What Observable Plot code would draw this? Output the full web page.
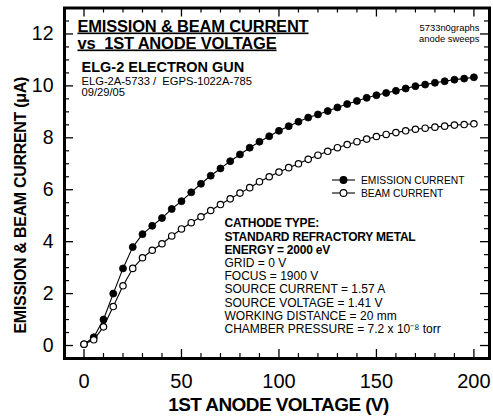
<!DOCTYPE html>
<html>
<head>
<meta charset="utf-8">
<script src="https://cdn.jsdelivr.net/npm/d3@7"></script>
<script src="https://cdn.jsdelivr.net/npm/@observablehq/plot@0.6"></script>
<style>
  body { margin: 0; background: #fff; }
  #chart svg { display: block; }
</style>
</head>
<body>
<div id="chart"></div>
<script>
// ---- data ----
const voltage = [0,5,10,15,20,25,30,35,40,45,50,55,60,65,70,75,80,85,90,95,100,
                 105,110,115,120,125,130,135,140,145,150,155,160,165,170,175,180,185,190,195,200];
const emission = [0.05,0.32,1.0,2.0,2.97,3.79,4.29,4.61,4.91,5.26,5.56,5.9,6.23,6.54,6.82,7.1,7.36,7.62,7.85,8.06,8.27,
                  8.45,8.62,8.78,8.9,9.03,9.17,9.3,9.42,9.54,9.64,9.73,9.81,9.9,9.99,10.05,10.12,10.18,10.24,10.28,10.33];
const beam = [0.05,0.22,0.72,1.5,2.3,2.97,3.38,3.67,3.92,4.22,4.49,4.73,4.96,5.2,5.43,5.65,5.87,6.08,6.31,6.5,6.68,
              6.85,7.0,7.17,7.33,7.48,7.62,7.74,7.85,7.95,8.05,8.13,8.2,8.27,8.33,8.37,8.41,8.45,8.49,8.51,8.54];
const seriesNames = ["EMISSION CURRENT", "BEAM CURRENT"];
const xTickLabels = [0, 50, 100, 150, 200];
const yTickLabels = [0, 2, 4, 6, 8, 10, 12];
const xMinorTicks = [10,20,30,40,60,70,80,90,110,120,130,140,160,170,180,190];
const yMinorTicks = [0.5,1,1.5,2.5,3,3.5,4.5,5,5.5,6.5,7,7.5,8.5,9,9.5,10.5,11,11.5,12.5];

const titleLines = ["EMISSION & BEAM CURRENT", "vs\u00a0\u00a01ST ANODE VOLTAGE"];
const subTitle = "ELG-2 ELECTRON GUN";
const subLines = ["ELG-2A-5733 /\u00a0\u00a0EGPS-1022A-785", "09/29/05"];
const cornerNote = "5733n0graphs\nanode sweeps";
const boldNotes = "CATHODE TYPE:\nSTANDARD REFRACTORY METAL\nENERGY = 2000 eV";
const plainNotes = "GRID = 0 V\nFOCUS = 1900 V\nSOURCE CURRENT = 1.57 A\nSOURCE VOLTAGE = 1.41 V\nWORKING DISTANCE = 20 mm\nCHAMBER PRESSURE = 7.2 x 10\u207B\u2078 torr";
const xLabel = "1ST ANODE VOLTAGE (V)";
const yLabel = "EMISSION & BEAM CURRENT (\u03bcA)";

const rows = voltage.map((v, i) => ({v, e: emission[i], b: beam[i]}));
const FONT = "Liberation Sans, Arial, sans-serif";

// layout
const W = 493, H = 417;
const M = {left: 64, right: 4, top: 7.5, bottom: 59};
const frameW = W - M.left - M.right;
const frameH = H - M.top - M.bottom;
const MAJOR = 9, MINOR = 5;

function legendMark(index, scales, values, dims) {
  const {marginLeft, marginTop} = dims;
  const g = d3.create("svg:g").attr("font-family", FONT).attr("text-anchor", "start");
  seriesNames.forEach((name, i) => {
    const y = marginTop + 172.5 + i * 13;
    const x0 = marginLeft + 268;
    g.append("line").attr("x1", x0).attr("x2", x0 + 23).attr("y1", y).attr("y2", y)
      .attr("stroke", "black").attr("stroke-width", 1.1);
    g.append("circle").attr("cx", x0 + 11.5).attr("cy", y).attr("r", 3.4)
      .attr("fill", i === 0 ? "black" : "white").attr("stroke", "black").attr("stroke-width", 1.1);
    g.append("text").attr("x", x0 + 29).attr("y", y).attr("dy", "0.36em")
      .attr("font-size", 10.3).attr("fill", "black").text(name);
  });
  return g.node();
}

const inwardTicks = [
  // bottom & top
  Plot.tickX(xTickLabels, {x: d => d, insetTop: frameH - MAJOR, stroke: "black", strokeWidth: 1.3}),
  Plot.tickX(xTickLabels, {x: d => d, insetBottom: frameH - MAJOR, stroke: "black", strokeWidth: 1.3}),
  Plot.tickX(xMinorTicks, {x: d => d, insetTop: frameH - MINOR, stroke: "black", strokeWidth: 1.2}),
  Plot.tickX(xMinorTicks, {x: d => d, insetBottom: frameH - MINOR, stroke: "black", strokeWidth: 1.2}),
  // left & right
  Plot.tickY(yTickLabels, {y: d => d, insetRight: frameW - MAJOR, stroke: "black", strokeWidth: 1.3}),
  Plot.tickY(yTickLabels, {y: d => d, insetLeft: frameW - MAJOR, stroke: "black", strokeWidth: 1.3}),
  Plot.tickY(yMinorTicks, {y: d => d, insetRight: frameW - MINOR, stroke: "black", strokeWidth: 1.2}),
  Plot.tickY(yMinorTicks, {y: d => d, insetLeft: frameW - MINOR, stroke: "black", strokeWidth: 1.2})
];

const chart = Plot.plot({
  width: W,
  height: H,
  marginLeft: M.left,
  marginRight: M.right,
  marginTop: M.top,
  marginBottom: M.bottom,
  style: {fontFamily: FONT, color: "black"},
  x: {domain: [-10, 208], label: null},
  y: {domain: [-0.5, 13], label: null},
  marks: [
    // tick labels (no tick lines)
    Plot.axisX({anchor: "bottom", ticks: xTickLabels, tickSize: 0, tickPadding: 15, fontSize: 20}),
    Plot.axisY({anchor: "left", ticks: yTickLabels, tickSize: 0, tickPadding: 11, fontSize: 19.5}),
    // data
    Plot.line(rows, {x: "v", y: "e", stroke: "black", strokeWidth: 1.1}),
    Plot.line(rows, {x: "v", y: "b", stroke: "black", strokeWidth: 1.1}),
    Plot.dot(rows, {x: "v", y: "e", r: 3.5, fill: "black", stroke: "black", strokeWidth: 0.8}),
    Plot.dot(rows, {x: "v", y: "b", r: 3.2, fill: "white", stroke: "black", strokeWidth: 1.2}),
    // frame and inward ticks
    Plot.frame({stroke: "black", strokeWidth: 3}),
    ...inwardTicks,
    // titles inside frame
    Plot.text([titleLines[0]], {text: d => d, frameAnchor: "top-left", dx: 13, dy: 23.5, textAnchor: "start",
      lineAnchor: "bottom", fontSize: 16.5, fontWeight: "bold"}),
    Plot.text([titleLines[1]], {text: d => d, frameAnchor: "top-left", dx: 13, dy: 40.5, textAnchor: "start",
      lineAnchor: "bottom", fontSize: 16.5, fontWeight: "bold"}),
    Plot.text([subTitle], {text: d => d, frameAnchor: "top-left", dx: 17, dy: 63.5, textAnchor: "start",
      lineAnchor: "bottom", fontSize: 14.5, fontWeight: "bold"}),
    Plot.text([subLines[0]], {text: d => d, frameAnchor: "top-left", dx: 17, dy: 76.5, textAnchor: "start",
      lineAnchor: "bottom", fontSize: 11.2}),
    Plot.text([subLines[1]], {text: d => d, frameAnchor: "top-left", dx: 17, dy: 88, textAnchor: "start",
      lineAnchor: "bottom", fontSize: 11.2}),
    Plot.text([cornerNote], {text: d => d, frameAnchor: "top-right", dx: -10, dy: 33.5, textAnchor: "end",
      lineAnchor: "bottom", fontSize: 9.4, lineHeight: 1.15}),
    Plot.text([boldNotes], {text: d => d, frameAnchor: "top-left", dx: 160, dy: 246.3, textAnchor: "start",
      lineAnchor: "bottom", fontSize: 12, fontWeight: "bold", lineHeight: 1.15}),
    Plot.text([plainNotes], {text: d => d, frameAnchor: "top-left", dx: 160, dy: 325, textAnchor: "start",
      lineAnchor: "bottom", fontSize: 12, lineHeight: 1.1}),
    // axis titles
    Plot.text([xLabel], {text: d => d, frameAnchor: "bottom", dx: 1.5, dy: 52.5, textAnchor: "middle",
      lineAnchor: "bottom", fontSize: 19, fontWeight: "bold"}),
    Plot.text([yLabel], {text: d => d, frameAnchor: "left", dx: -44, dy: 22, rotate: -90, textAnchor: "middle",
      lineAnchor: "middle", fontSize: 16, fontWeight: "bold"}),
    // legend
    legendMark
  ]
});

document.getElementById("chart").appendChild(chart);

// text styling that Plot has no option for
chart.querySelectorAll("text").forEach(t => {
  const s = t.textContent;
  if (titleLines.includes(s)) {
    t.style.textDecoration = "underline";
    t.style.textDecorationThickness = "1.6px";
    t.style.textUnderlineOffset = "2px";
    t.style.letterSpacing = "-0.2px";
  } else if (s === xLabel) {
    t.style.letterSpacing = "-0.6px";
  } else if (s === yLabel) {
    t.style.letterSpacing = "-0.3px";
  }
});
chart.querySelectorAll("tspan").forEach(t => {
  if (boldNotes.split("\n").includes(t.textContent)) t.style.letterSpacing = "-0.2px";
});
</script>
</body>
</html>
